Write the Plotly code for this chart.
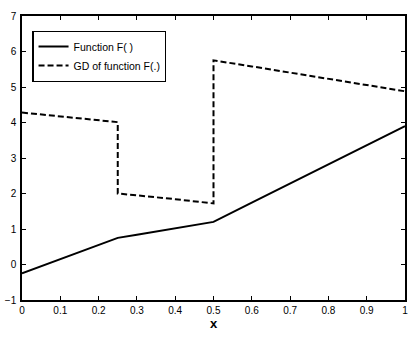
import plotly.graph_objects as go

# Function F() values
f_x = [0.0, 0.1, 0.2, 0.25, 0.3, 0.4, 0.5, 0.6, 0.7, 0.8, 0.9, 1.0]
f_y = [-0.25, 0.15, 0.55, 0.75, 0.84, 1.03, 1.2, 1.74, 2.28, 2.82, 3.36, 3.9]

# GD of function F(.)
gd_x = [0.0, 0.1, 0.2, 0.25, 0.25, 0.3, 0.4, 0.5, 0.5, 0.6, 0.7, 0.8, 0.9, 1.0]
gd_y = [4.28, 4.17, 4.06, 4.01, 2.0, 1.95, 1.84, 1.72, 5.75, 5.58, 5.4, 5.22, 5.05, 4.88]

x_ticks = [0, 0.1, 0.2, 0.3, 0.4, 0.5, 0.6, 0.7, 0.8, 0.9, 1]
x_tick_labels = ["0", "0.1", "0.2", "0.3", "0.4", "0.5", "0.6", "0.7", "0.8", "0.9", "1"]
y_ticks = [-1, 0, 1, 2, 3, 4, 5, 6, 7]

fig = go.Figure()
fig.add_trace(go.Scatter(x=f_x, y=f_y, mode="lines", name="Function F( )",
                         line=dict(color="black", width=2)))
fig.add_trace(go.Scatter(x=gd_x, y=gd_y, mode="lines", name="GD of function F(.)",
                         line=dict(color="black", width=2, dash="6px,3px")))

axis_common = dict(showgrid=False, zeroline=False, showline=True, linecolor="black",
                   linewidth=1.5, mirror="ticks", ticks="inside", ticklen=4,
                   tickcolor="black", automargin=False,
                   tickfont=dict(size=10, color="black",
                                 family="Liberation Sans, Arial, sans-serif"))
fig.update_xaxes(range=[0, 1], tickvals=x_ticks, ticktext=x_tick_labels,
                 title=dict(text="<b>x</b>", font=dict(size=13, color="black"), standoff=4),
                 **axis_common)
fig.update_yaxes(range=[-1, 7], tickvals=y_ticks, ticklabelstandoff=2, **axis_common)

fig.update_layout(
    width=420, height=339,
    margin=dict(l=22, r=15, t=16, b=39),
    paper_bgcolor="white", plot_bgcolor="white",
    font=dict(family="Liberation Sans, Arial, sans-serif", color="black", size=10),
    legend=dict(x=0.027, y=0.948, xanchor="left", yanchor="top",
                bordercolor="black", borderwidth=1.2, bgcolor="white",
                font=dict(size=10.5), tracegroupgap=0, itemwidth=30),
    showlegend=True,
)

fig.write_html("out.html", config={"displayModeBar": False},
               post_script="document.body.style.margin='0';")
